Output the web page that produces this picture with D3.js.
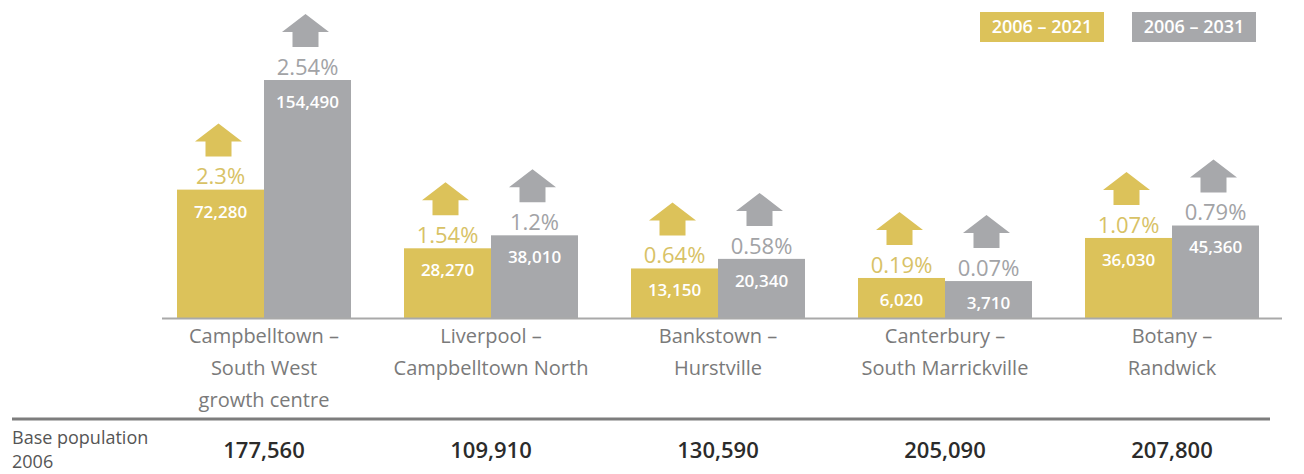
<!DOCTYPE html>
<html><head><meta charset="utf-8">
<script src="https://cdn.jsdelivr.net/npm/d3@7"></script>
<style>body{margin:0;background:#fff}svg{display:block}</style>
</head><body>
<svg id="c" width="1304" height="474"></svg>
<script>
const categories = [
  ["Campbelltown –", "South West", "growth centre"],
  ["Liverpool –", "Campbelltown North"],
  ["Bankstown –", "Hurstville"],
  ["Canterbury –", "South Marrickville"],
  ["Botany –", "Randwick"]
];
const seriesNames = ["2006 – 2021", "2006 – 2031"];
const growth2021 = [72280, 28270, 13150, 6020, 36030];
const growth2031 = [154490, 38010, 20340, 3710, 45360];
const pct2021 = ["2.3%", "1.54%", "0.64%", "0.19%", "1.07%"];
const pct2031 = ["2.54%", "1.2%", "0.58%", "0.07%", "0.79%"];
const basePop = ["177,560", "109,910", "130,590", "205,090", "207,800"];
const baseLabel = ["Base population", "2006"];

const GOLD = "#dcc25a", GRAY = "#a7a8ab";
const GOLD_T = "#d8c266", GRAY_T = "#a2a3a6";
const FONT = "Open Sans, Lato, sans-serif";
const fmt = d3.format(",");

const svg = d3.select("#c");
const keys = categories.map((c, i) => i);
const x0 = d3.scaleBand().domain(keys).range([150.5, 1285.5]).paddingInner(0.2335).paddingOuter(0.2335 / 2);
const x1 = d3.scaleBand().domain([0, 1]).range([0, x0.bandwidth()]);
const y = d3.scaleLinear().domain([-24000, 154490]).range([318, 80]);
const colors = [GOLD, GRAY], tcolors = [GOLD_T, GRAY_T];

const data = [];
keys.forEach(i => {
  data.push({g: i, s: 0, v: growth2021[i], p: pct2021[i]});
  data.push({g: i, s: 1, v: growth2031[i], p: pct2031[i]});
});
const cx = d => x0(d.g) + x1(d.s) + x1.bandwidth() / 2;

// bars
svg.append("g").selectAll("rect").data(data).join("rect")
  .attr("x", d => x0(d.g) + x1(d.s))
  .attr("y", d => y(d.v))
  .attr("width", x1.bandwidth())
  .attr("height", d => y(-24000) - y(d.v))
  .attr("fill", d => colors[d.s]);

// axis baseline
svg.append("line").attr("x1", 162).attr("x2", 1282).attr("y1", 318.5).attr("y2", 318.5)
  .attr("stroke", "#a9a9a9").attr("stroke-width", 2);

// value labels inside bars
svg.append("g").selectAll("text").data(data).join("text")
  .attr("x", cx)
  .attr("y", d => y(d.v) + 22)
  .attr("dy", "0.35em")
  .attr("text-anchor", "middle")
  .attr("font-family", FONT).attr("font-weight", 600).attr("font-size", 17)
  .attr("fill", "#fff")
  .text(d => fmt(d.v));

// percent labels
svg.append("g").selectAll("text").data(data).join("text")
  .attr("x", cx)
  .attr("y", d => y(d.v) - 13)
  .attr("dy", "0.35em")
  .attr("text-anchor", "middle")
  .attr("font-family", FONT).attr("font-size", 22)
  .attr("fill", d => tcolors[d.s])
  .text(d => d.p);

// arrows
const arrow = (x, bottom) => {
  const hw = 23.5, sw = 13, hh = 18, sh = 15;
  const top = bottom - hh - sh;
  return `M${x},${top} L${x + hw},${top + hh} L${x + sw},${top + hh} L${x + sw},${bottom} L${x - sw},${bottom} L${x - sw},${top + hh} L${x - hw},${top + hh} Z`;
};
svg.append("g").selectAll("path").data(data).join("path")
  .attr("d", d => arrow(cx(d) - 2, y(d.v) - 33))
  .attr("fill", d => colors[d.s]);

// category labels
const cat = svg.append("g").selectAll("text").data(keys).join("text")
  .attr("x", i => x0(i) + x0.bandwidth() / 2)
  .attr("y", 336)
  .attr("text-anchor", "middle")
  .attr("font-family", FONT).attr("font-size", 20)
  .attr("fill", "#7a7a7a");
cat.selectAll("tspan").data(i => categories[i]).join("tspan")
  .attr("x", function () { return d3.select(this.parentNode).attr("x"); })
  .attr("y", (d, j) => 336 + j * 32)
  .attr("dy", "0.35em")
  .text(d => d);

// table line
svg.append("line").attr("x1", 12).attr("x2", 1270).attr("y1", 419).attr("y2", 419)
  .attr("stroke", "#7d7d7d").attr("stroke-width", 3);

// base population label
svg.append("g").selectAll("text").data(baseLabel).join("text")
  .attr("x", 12).attr("y", (d, j) => 438 + j * 24).attr("dy", "0.35em")
  .attr("font-family", FONT).attr("font-size", 18).attr("fill", "#555")
  .text(d => d);

svg.append("g").selectAll("text").data(keys).join("text")
  .attr("x", i => x0(i) + x0.bandwidth() / 2)
  .attr("y", 450).attr("dy", "0.35em")
  .attr("text-anchor", "middle")
  .attr("font-family", FONT).attr("font-weight", 600).attr("font-size", 22)
  .attr("fill", "#2b2b2b")
  .text(i => basePop[i]);

// legend
const legend = svg.append("g");
const lx = [980, 1132];
seriesNames.forEach((n, k) => {
  legend.append("rect").attr("x", lx[k]).attr("y", 12).attr("width", 124).attr("height", 30).attr("fill", colors[k]);
  legend.append("text").attr("x", lx[k] + 62).attr("y", 27).attr("dy", "0.35em")
    .attr("text-anchor", "middle").attr("font-family", FONT).attr("font-weight", 600).attr("font-size", 18)
    .attr("fill", "#fff").text(n);
});
</script>
</body></html>
